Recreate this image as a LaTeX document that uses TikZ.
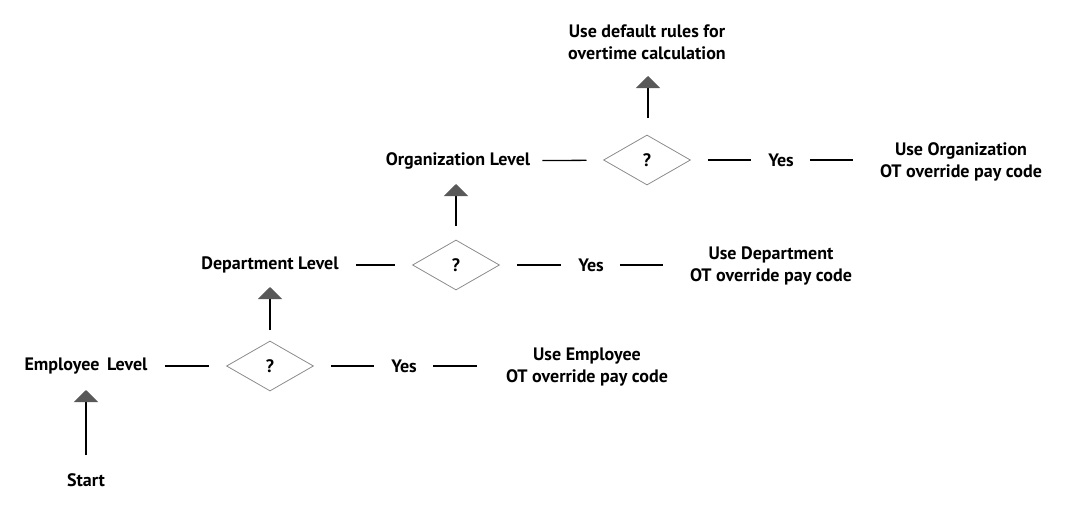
\documentclass[tikz,border=0pt]{standalone}
\usepackage{fontspec}
\setmainfont{PT Sans}
\usetikzlibrary{shapes.geometric,arrows.meta}
\begin{document}
\begin{tikzpicture}[x=1pt,y=-1pt]
	\tikzstyle{every node}+=[inner sep=0pt,font=\fontsize{18}{22}\selectfont\bfseries,align=center]
	\tikzstyle{decision}=[diamond,draw=black!45,line width=0.8pt,minimum width=87pt,minimum height=50pt,aspect=1.74]
	\tikzstyle{link}=[black,line width=1.3pt,shorten <=17pt,shorten >=17pt]
	\tikzstyle{tail}=[black,line width=1.3pt,shorten <=16pt]
	\tikzstyle{up}=[black,line width=1.5pt,-{Triangle[width=24pt,length=12pt,color=black!65]}]
	\useasboundingbox (0,0) rectangle (1077,522);
	% level 1
	\node (start) at (86,480) {Start};
	\node (emp) at (86,366) {Employee\, Level};
	\node [decision] (q1) at (270,366) {?};
	\node (yes1) at (404,366) {Yes};
	\node (use1) at (587,367) {Use Employee\\OT override pay code};
	\coordinate (e1) at (477,366);
	\coordinate (a0) at (86,455);
	\coordinate (b0) at (86,390);
	\draw [up] (a0) -- (b0);
	\draw [link] (emp) -- (q1);
	\draw [link] (q1) -- (yes1);
	\draw [tail] (yes1) -- (e1);
	% level 2
	\node (dept) at (270,265) {Department Level};
	\node [decision] (q2) at (456,265) {?};
	\node (yes2) at (591,265) {Yes};
	\node (use2) at (771,266) {Use Department\\OT override pay code};
	\coordinate (e2) at (663,265);
	\coordinate (a1) at (270,330);
	\coordinate (b1) at (270,287);
	\draw [up] (a1) -- (b1);
	\draw [link] (dept) -- (q2);
	\draw [link] (q2) -- (yes2);
	\draw [tail] (yes2) -- (e2);
	% level 3
	\node (org) at (458,161) {Organization Level};
	\node [decision] (q3) at (647,160) {?};
	\node (yes3) at (781,160) {Yes};
	\node (use3) at (961,162) {Use Organization\\OT override pay code};
	\coordinate (e3) at (853,160);
	\coordinate (a2) at (456,226);
	\coordinate (b2) at (456,184);
	\draw [up] (a2) -- (b2);
	\draw [link,shorten <=12pt] (org) -- (q3);
	\draw [link] (q3) -- (yes3);
	\draw [tail] (yes3) -- (e3);
	% default
	\node (dflt) at (647,42) {Use default rules for\\overtime calculation};
	\coordinate (a3) at (648,118);
	\coordinate (b3) at (648,76);
	\draw [up] (a3) -- (b3);
\end{tikzpicture}
\end{document}
